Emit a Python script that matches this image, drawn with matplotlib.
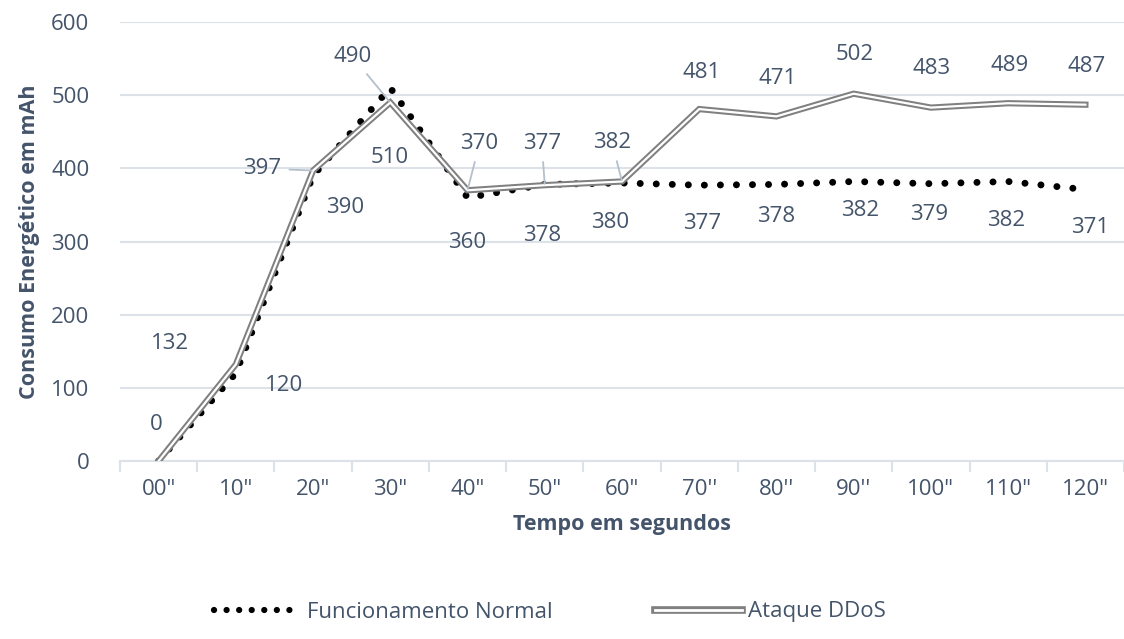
import matplotlib.pyplot as plt
import numpy as np
from matplotlib.lines import Line2D

plt.rcParams['font.family'] = ['Open Sans', 'DejaVu Sans']

tempos = ['00"', '10"', '20"', '30"', '40"', '50"', '60"', "70''", "80''", "90''", '100"', '110"', '120"']
normal = [0, 120, 390, 510, 360, 378, 380, 377, 378, 382, 379, 382, 371]
ddos = [0, 132, 397, 490, 370, 377, 382, 481, 471, 502, 483, 489, 487]

# offsets (pixels) of the data labels from their points
off_ddos = [(-2, 36), (-66, 21), (-51, 2), (-38, 46), (12, 47), (-3, 42), (-10, 39),
            (2, 37), (1, 38), (1, 39), (1, 39), (1, 38), (1, 38)]
off_normal = [None, (48, -12), (32, -32), (-1, -70), (0, -45), (-3, -51), (-12, -40),
              (3, -38), (0, -32), (6, -29), (-2, -31), (-2, -39), (5, -38)]
leader = [2, 3, 4, 5, 6]

txt = '#44546a'
grid = '#dde1e8'
dots = (0, (0.01, 2.3))

fig = plt.figure(figsize=(11.24, 6.39), dpi=100)
ax = fig.add_axes([120 / 1124, 1 - 461 / 639, 1004 / 1124, (461 - 22) / 639])

x = np.arange(len(tempos))
ax.plot(x, normal, color='black', lw=5, linestyle=dots,
        dash_capstyle='round', zorder=3)
ax.plot(x, ddos, color='#808080', lw=4.5, solid_joinstyle='miter', zorder=4)
ax.plot(x, ddos, color='white', lw=1.6, solid_joinstyle='miter', zorder=5)

for i, v in enumerate(ddos):
    dx, dy = off_ddos[i]
    ap = None
    if i in leader:
        ap = dict(arrowstyle='-', color='#b4c0cc', lw=1.3, shrinkA=4, shrinkB=1)
    ax.annotate(str(v), (i, v), xytext=(dx, dy), textcoords='offset pixels',
                ha='center', va='center', fontsize=16, color=txt, arrowprops=ap, zorder=6)
for i, v in enumerate(normal):
    if off_normal[i] is None:
        continue
    dx, dy = off_normal[i]
    ax.annotate(str(v), (i, v), xytext=(dx, dy), textcoords='offset pixels',
                ha='center', va='center', fontsize=16, color=txt, zorder=6)

ax.set_xlim(-0.5, len(tempos) - 0.5)
ax.set_ylim(0, 600)
ax.set_yticks(range(0, 601, 100))
ax.set_xticks(x)
ax.set_xticklabels(tempos)
ax.set_xticks(np.arange(-0.5, len(tempos), 1), minor=True)
ax.tick_params(axis='x', which='major', length=0, pad=13, labelsize=16, labelcolor=txt)
ax.tick_params(axis='x', which='minor', length=8, color=grid, width=1.5)
ax.tick_params(axis='y', length=0, pad=22, labelsize=16, labelcolor=txt)
ax.grid(axis='y', color=grid, lw=1.5)
ax.set_axisbelow(True)
for s in ['top', 'right', 'left']:
    ax.spines[s].set_visible(False)
ax.spines['bottom'].set_color(grid)
ax.spines['bottom'].set_linewidth(1.5)

ax.set_xlabel('Tempo em segundos', fontsize=15.5, fontweight='bold', color=txt, labelpad=10)
ax.set_ylabel('Consumo Energético em mAh', fontsize=15.5, fontweight='bold', color=txt, labelpad=8)

h1 = Line2D([], [], color='black', lw=4.5, linestyle=(0, (0.01, 2.0)), dash_capstyle='round')
h2a = Line2D([], [], color='#808080', lw=5.5)
h2b = Line2D([], [], color='white', lw=2)
fig.legend([h1, (h2a, h2b)], ['Funcionamento Normal', 'Ataque DDoS'],
           loc='center', bbox_to_anchor=(550 / 1124, 1 - 612 / 639), ncol=2, frameon=False,
           fontsize=16, labelcolor=txt, handlelength=3.9, handletextpad=0.3, columnspacing=4.6)

fig.savefig('out.png', dpi=100)
